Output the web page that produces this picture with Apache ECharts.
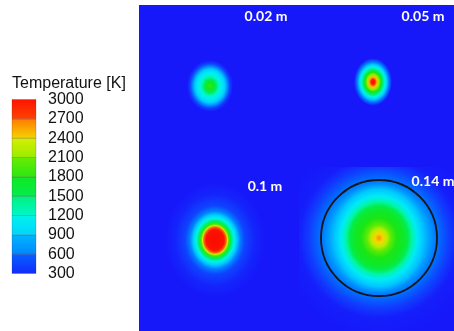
<!DOCTYPE html>
<html>
<head>
<meta charset="utf-8">
<script src="https://cdn.jsdelivr.net/npm/echarts@6/dist/echarts.min.js"></script>
<style>
  html, body { margin: 0; padding: 0; background: #fff; }
  #chart { width: 454px; height: 331px; }
</style>
</head>
<body>
<div id="chart"></div>
<script>
// Temperature scale levels (K)
const tempLevels = [300, 600, 900, 1200, 1500, 1800, 2100, 2400, 2700, 3000];

// Flame cross-sections at four heights
const sectionNames = ['0.02 m', '0.05 m', '0.1 m', '0.14 m'];
// flame axis position within the field (field units)
const axisX = [71, 234, 76, 240];
const axisY = [245, 249, 91, 93];
// vertical / horizontal stretch of the isotherms
const elongation = [1.12, 1.25, 1.15, 1.1];

// radial temperature profiles: distance from flame axis, temperature (K)
const radius002 = [0, 3, 6, 9, 12, 15, 17, 20, 23];
const temp002   = [1900, 1750, 1500, 1250, 1080, 930, 720, 430, 300];
const radius005 = [0, 2, 4, 6, 8, 10, 12, 14, 16, 19];
const temp005   = [3000, 2850, 2500, 2150, 1800, 1450, 1150, 900, 620, 300];
const radius010 = [0, 9, 11, 12.5, 14, 16, 19, 22, 25, 30, 40, 50];
const temp010   = [3000, 2950, 2700, 2300, 1900, 1500, 1150, 900, 650, 440, 340, 300];
const radius014 = [0, 4, 8, 12, 18, 24, 29, 33, 38, 44, 50, 58, 70, 80, 100];
const temp014   = [2600, 2450, 2250, 2000, 1820, 1720, 1580, 1350, 1080, 900, 750, 600, 420, 320, 300];
// outline drawn around the widest section
const outlineRadius014 = 58;

const profiles = [
  { r: radius002, t: temp002 },
  { r: radius005, t: temp005 },
  { r: radius010, t: temp010 },
  { r: radius014, t: temp014 }
];

// colour map (rainbow, blue = cold, red = hot)
const cmapT = [300, 450, 600, 750, 900, 1050, 1200, 1350, 1500, 1800, 2100, 2400, 2550, 2700, 2850, 3000];
const cmapRGB = [
  [22, 24, 250], [14, 70, 255], [0, 115, 255], [0, 160, 255], [0, 200, 255],
  [0, 232, 250], [0, 248, 225], [0, 245, 170], [0, 238, 90], [20, 230, 20],
  [130, 236, 0], [238, 238, 0], [255, 170, 0], [255, 90, 0], [255, 32, 0], [250, 12, 0]
];

function cmap(T, alpha) {
  const a = alpha == null ? 1 : alpha;
  if (T <= cmapT[0]) T = cmapT[0];
  if (T >= cmapT[cmapT.length - 1]) T = cmapT[cmapT.length - 1];
  let k = 0;
  while (k < cmapT.length - 2 && T > cmapT[k + 1]) k++;
  const f = (T - cmapT[k]) / (cmapT[k + 1] - cmapT[k]);
  const c = cmapRGB[k].map((v, j) => Math.round(v + (cmapRGB[k + 1][j] - v) * f));
  return 'rgba(' + c[0] + ',' + c[1] + ',' + c[2] + ',' + a + ')';
}

// colour bar bands between successive levels
const bandData = tempLevels.slice(0, -1).map((lo, i) => [0.5, lo, tempLevels[i + 1]]);

function renderBand(params, api) {
  const lo = api.value(1), hi = api.value(2);
  const cs = params.coordSys;
  const top = api.coord([0.5, hi])[1];
  const bot = api.coord([0.5, lo])[1];
  return {
    type: 'rect',
    shape: { x: cs.x, y: top, width: cs.width, height: bot - top },
    style: {
      fill: {
        type: 'linear', x: 0, y: 0, x2: 0, y2: 1,
        colorStops: [
          { offset: 0, color: cmap(hi - 60) },
          { offset: 1, color: cmap(lo + 60) }
        ]
      },
      stroke: 'rgba(40,40,60,0.35)',
      lineWidth: 0.6
    }
  };
}

// section title anchors (field units)
const titleAnchor = [[127, 315], [284, 315], [126, 145], [294, 150]];
// sub-panel of the widest section, carrying its warm surroundings
const outerPanel = { x0: 160, x1: 315, y0: 0, y1: 164 };

function renderSection(params, api) {
  const i = params.dataIndex;
  const c = api.coord([api.value(0), api.value(1)]);
  const unit = api.size([1, 1]);
  const prof = profiles[i];
  const children = [];
  const stopsOf = (rMax, fade) => {
    const s = [];
    prof.r.forEach((r, k) => {
      if (r <= rMax) s.push({ offset: r / rMax, color: cmap(prof.t[k]) });
    });
    if (fade) s[s.length - 1].color = cmap(prof.t[s.length - 1], 0);
    return s;
  };
  const rEnd = prof.r[prof.r.length - 1];

  if (i === 3) {
    const p0 = api.coord([outerPanel.x0, outerPanel.y1]);
    const p1 = api.coord([outerPanel.x1, outerPanel.y0]);
    children.push({
      type: 'rect',
      shape: { x: p0[0], y: p0[1], width: p1[0] - p0[0], height: p1[1] - p0[1] },
      style: {
        fill: { type: 'radial', x: c[0], y: c[1], r: rEnd * unit[0], global: true, colorStops: stopsOf(rEnd, false) }
      }
    });
    children.push({
      type: 'circle',
      x: c[0], y: c[1],
      scaleY: elongation[i] * unit[1] / unit[0],
      shape: { cx: 0, cy: 0, r: 50 * unit[0] },
      style: { fill: { type: 'radial', x: 0.5, y: 0.5, r: 0.5, colorStops: stopsOf(50, true) } }
    });
    children.push({
      type: 'circle',
      shape: { cx: c[0], cy: c[1], r: outlineRadius014 * unit[0] },
      style: { fill: 'none', stroke: '#151515', lineWidth: 1.8 }
    });
  } else {
    children.push({
      type: 'circle',
      x: c[0], y: c[1],
      scaleY: elongation[i] * unit[1] / unit[0],
      shape: { cx: 0, cy: 0, r: rEnd * unit[0] },
      style: { fill: { type: 'radial', x: 0.5, y: 0.5, r: 0.5, colorStops: stopsOf(rEnd, false) } }
    });
  }
  return { type: 'group', children: children };
}

function renderTitle(params, api) {
  const i = params.dataIndex;
  const tp = api.coord(titleAnchor[i]);
  return {
    type: 'text',
    x: tp[0], y: tp[1],
    style: {
      text: sectionNames[i],
      fill: '#ffffff',
      fontSize: 14,
      fontWeight: 'bold',
      fontFamily: 'Lato, "Open Sans", sans-serif',
      align: 'center',
      verticalAlign: 'middle'
    }
  };
}

const sectionData = axisX.map((x, i) => [x, axisY[i]]);

const chart = echarts.init(document.getElementById('chart'), null, { renderer: 'canvas' });
chart.setOption({
  animation: false,
  title: {
    text: 'Temperature [K]',
    left: 12, top: 76, padding: 0,
    textStyle: { fontSize: 16, fontWeight: 'normal', color: '#111', fontFamily: '"Liberation Sans", Arial, sans-serif' }
  },
  grid: [
    { left: 12, top: 99.5, width: 24, height: 174 },
    { left: 139, top: 5, width: 315, height: 326, show: true, backgroundColor: cmap(300), borderWidth: 0 }
  ],
  xAxis: [
    { gridIndex: 0, type: 'value', min: 0, max: 1, show: false },
    { gridIndex: 1, type: 'value', min: 0, max: 315, show: false }
  ],
  yAxis: [
    {
      gridIndex: 0, type: 'value', min: 300, max: 3000, interval: 300, position: 'right',
      axisLine: { show: false }, axisTick: { show: false }, splitLine: { show: false },
      axisLabel: {
        margin: 12, fontSize: 16, color: '#111',
        fontFamily: '"Liberation Sans", Arial, sans-serif',
        formatter: (v) => String(v)
      }
    },
    { gridIndex: 1, type: 'value', min: 0, max: 326, show: false }
  ],
  series: [
    {
      type: 'custom', xAxisIndex: 0, yAxisIndex: 0,
      encode: { x: 0, y: [1, 2] },
      renderItem: renderBand, data: bandData, silent: true
    },
    {
      type: 'custom', xAxisIndex: 1, yAxisIndex: 1,
      encode: { x: 0, y: 1 },
      renderItem: renderSection, data: sectionData, silent: true
    },
    {
      type: 'custom', xAxisIndex: 1, yAxisIndex: 1,
      encode: { x: 0, y: 1 },
      renderItem: renderTitle, data: sectionData, silent: true
    }
  ]
});
</script>
</body>
</html>
